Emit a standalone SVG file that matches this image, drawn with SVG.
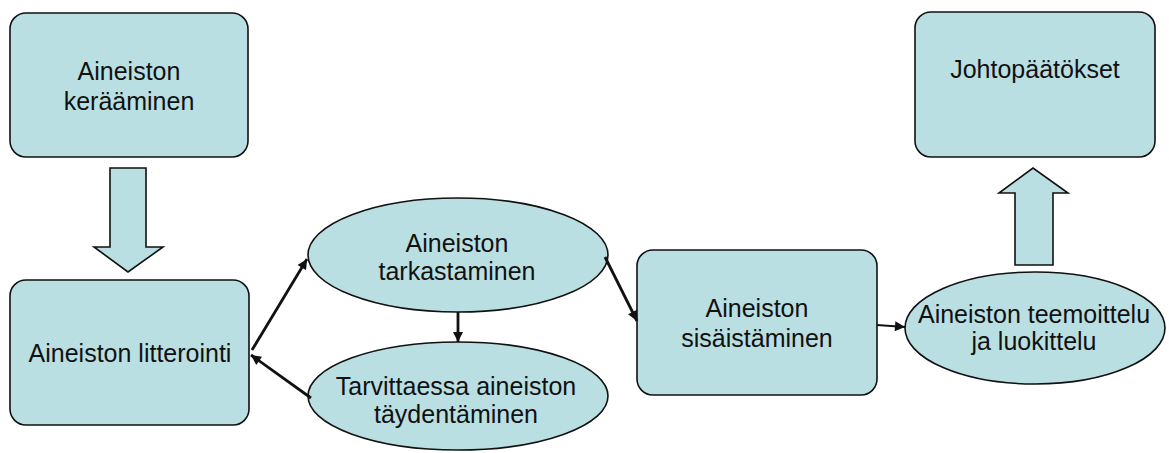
<svg xmlns="http://www.w3.org/2000/svg" width="1169" height="453" viewBox="0 0 1169 453">
  <defs>
    <style>
      .node { fill: #BADFE2; stroke: #111; stroke-width: 1.6; }
      .lbl { font-family: "Liberation Sans", Arial, sans-serif; font-size: 25px; fill: #111; text-anchor: middle; }
      .conn { stroke: #111; stroke-width: 2.8; fill: none; }
      .thin { stroke: #111; stroke-width: 2; fill: none; }
    </style>
    <marker id="ah" viewBox="0 0 10 10" refX="10" refY="5" markerWidth="12" markerHeight="10" markerUnits="userSpaceOnUse" orient="auto">
      <path d="M0,0 L10,5 L0,10 Z" fill="#111"/>
    </marker>
  </defs>
  <rect width="1169" height="453" fill="#fff"/>

  <g id="n-keraaminen">
    <rect class="node" x="10" y="13" width="238" height="144" rx="16"/>
    <text class="lbl" x="129" y="80">Aineiston</text>
    <text class="lbl" x="129" y="110">kerääminen</text>
  </g>

  <g id="arrow-down">
    <path class="node" d="M110,168 L146,168 L146,247 L163,247 L128,272 L94,247 L110,247 Z"/>
  </g>

  <g id="n-litterointi">
    <rect class="node" x="10" y="280" width="239" height="145" rx="16"/>
    <text class="lbl" x="130" y="362">Aineiston litterointi</text>
  </g>

  <g id="n-tarkastaminen">
    <ellipse class="node" cx="458" cy="255" rx="150" ry="57"/>
    <text class="lbl" x="457" y="252">Aineiston</text>
    <text class="lbl" x="457" y="280">tarkastaminen</text>
  </g>

  <g id="n-taydentaminen">
    <ellipse class="node" cx="458" cy="396" rx="150" ry="54"/>
    <text class="lbl" x="456" y="395">Tarvittaessa aineiston</text>
    <text class="lbl" x="456" y="423">täydentäminen</text>
  </g>

  <g id="n-sisaistaminen">
    <rect class="node" x="637" y="250" width="240" height="145" rx="16"/>
    <text class="lbl" x="757" y="317">Aineiston</text>
    <text class="lbl" x="757" y="347">sisäistäminen</text>
  </g>

  <g id="n-teemoittelu">
    <ellipse class="node" cx="1035" cy="328" rx="130" ry="56"/>
    <text class="lbl" x="1034" y="323">Aineiston teemoittelu</text>
    <text class="lbl" x="1034" y="350">ja luokittelu</text>
  </g>

  <g id="arrow-up">
    <path class="node" d="M1015,265 L1053,265 L1053,193 L1068,193 L1033,168 L999,193 L1015,193 Z"/>
  </g>

  <g id="n-johtopaatokset">
    <rect class="node" x="915" y="12" width="240" height="145" rx="16"/>
    <text class="lbl" x="1035" y="78">Johtopäätökset</text>
  </g>

  <g id="connectors">
    <line class="conn" x1="252" y1="350" x2="307" y2="259" marker-end="url(#ah)"/>
    <line class="conn" x1="311" y1="398" x2="251" y2="355" marker-end="url(#ah)"/>
    <line class="conn" x1="458" y1="312" x2="458" y2="342" marker-end="url(#ah)"/>
    <line class="conn" x1="605" y1="257" x2="637" y2="321" marker-end="url(#ah)"/>
    <line class="thin" x1="877" y1="325" x2="905" y2="327" marker-end="url(#ah)"/>
  </g>
</svg>
